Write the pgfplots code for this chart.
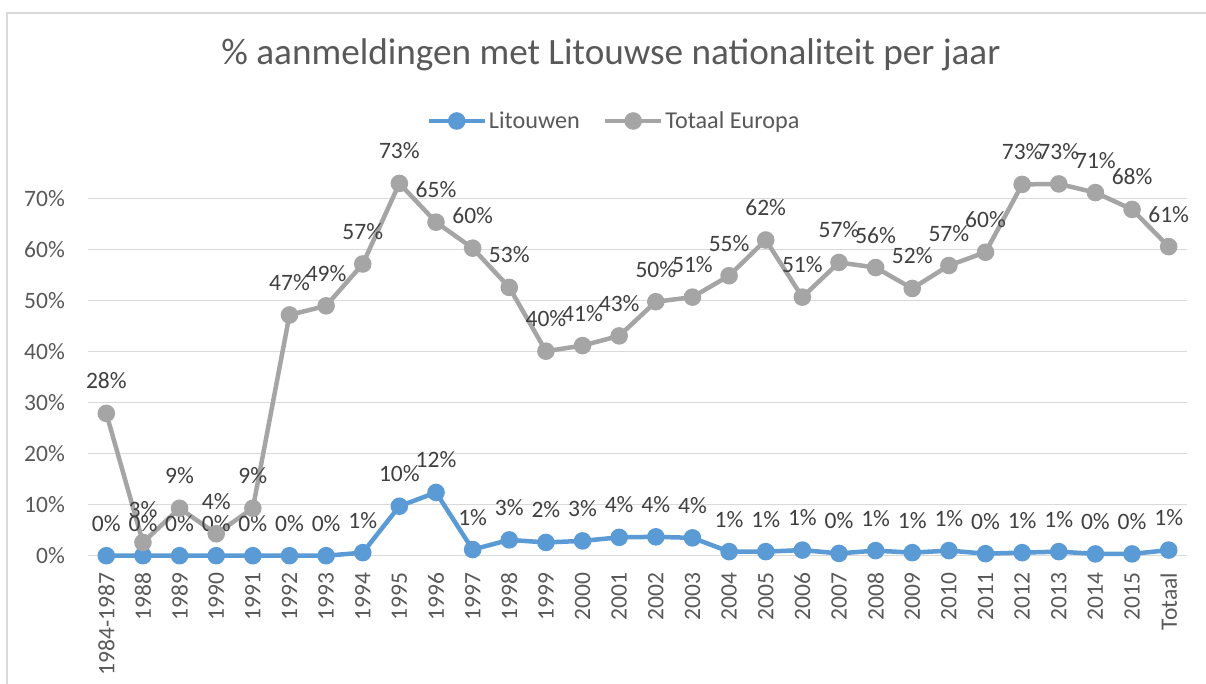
\documentclass[border=0pt]{standalone}
\usepackage{fontspec}
\setmainfont{Carlito}
\usepackage{pgfplots}
\usepackage{pgfplotstable}
\pgfplotsset{compat=1.18}
\definecolor{cBlue}{HTML}{5B9BD5}
\definecolor{cGray}{HTML}{A5A5A5}
\definecolor{cTick}{HTML}{595959}
\definecolor{cLab}{HTML}{404040}
\definecolor{cGrid}{HTML}{D9D9D9}

\pgfplotstableread{
x lit litl eur eurl
0  0.0  0  27.9 28
1  0.0  0  2.6  3
2  0.0  0  9.3  9
3  0.0  0  4.3  4
4  0.0  0  9.3  9
5  0.0  0  47.2 47
6  0.0  0  49.0 49
7  0.6  1  57.2 57
8  9.7  10 73.0 73
9  12.4 12 65.4 65
10 1.2  1  60.3 60
11 3.1  3  52.6 53
12 2.6  2  40.1 40
13 2.9  3  41.2 41
14 3.6  4  43.1 43
15 3.7  4  49.8 50
16 3.5  4  50.7 51
17 0.8  1  54.9 55
18 0.8  1  61.9 62
19 1.1  1  50.7 51
20 0.45 0  57.5 57
21 1.0  1  56.5 56
22 0.6  1  52.4 52
23 1.0  1  56.9 57
24 0.4  0  59.5 60
25 0.6  1  72.8 73
26 0.8  1  72.9 73
27 0.35 0  71.2 71
28 0.35 0  67.9 68
29 1.1  1  60.6 61
}\datatable

\begin{document}
\begin{tikzpicture}[font=\fontsize{23.5bp}{28bp}\selectfont]
\path[use as bounding box] (0,0) rectangle (1206bp,684bp);
\fill[white] (0,0) rectangle (1206bp,684bp);
\draw[cGrid, line width=1.2bp] (7bp,-20bp) -- (7bp,671bp) -- (1230bp,671bp);
\begin{axis}[
  at={(88bp,128.3bp)}, anchor=south west,
  scale only axis, width=1099bp, height=382.5bp,
  xmin=-0.5, xmax=29.5, ymin=0, ymax=75,
  axis line style={draw=none},
  major tick style={draw=none},
  ymajorgrids, grid style={cGrid, line width=1.3bp},
  ytick={0,10,20,30,40,50,60,70},
  yticklabels={0\%,10\%,20\%,30\%,40\%,50\%,60\%,70\%},
  yticklabel style={text=cTick, inner sep=0pt, anchor=east, xshift=-23bp},
  xtick={0,...,29},
  xticklabels={1984-1987,1988,1989,1990,1991,1992,1993,1994,1995,1996,1997,1998,1999,2000,2001,2002,2003,2004,2005,2006,2007,2008,2009,2010,2011,2012,2013,2014,2015,Totaal},
  xticklabel style={text=cTick, inner sep=0pt, rotate=90, anchor=east},
  xticklabel shift=17bp,
  clip=false,
  title={\% aanmeldingen met Litouwse nationaliteit per jaar},
  title style={at={(axis description cs:0.4758,1.0)}, anchor=base, yshift=103bp, text=cTick, font=\fontsize{37.2bp}{44bp}\selectfont, inner sep=0pt},
  legend style={draw=none, fill=none, at={(axis description cs:0.4786,1.1365)}, anchor=center,
    text=cTick, font=\fontsize{24.2bp}{29bp}\selectfont, nodes={inner sep=2bp}, /tikz/every even column/.append style={column sep=21bp}},
  legend columns=2,
  legend image code/.code={\draw[mark repeat=2,mark phase=2,#1] plot coordinates {(0bp,0bp) (28bp,0bp) (56bp,0bp)};},
  point meta=explicit symbolic,
  nodes near coords={\pgfplotspointmeta\%},
  nodes near coords style={anchor=base, yshift=24.5bp, text=cLab, inner sep=0pt},
]
\addplot[cBlue, line width=4.5bp, mark=*, mark size=6.5bp, mark options={fill=cBlue, draw=none}]
  table[x=x, y=lit, meta=litl] {\datatable};
\addlegendentry{Litouwen}
\addplot[cGray, line width=4.5bp, mark=*, mark size=6.5bp, mark options={fill=cGray, draw=none}]
  table[x=x, y=eur, meta=eurl] {\datatable};
\addlegendentry{Totaal Europa}
\end{axis}
\end{tikzpicture}
\end{document}
